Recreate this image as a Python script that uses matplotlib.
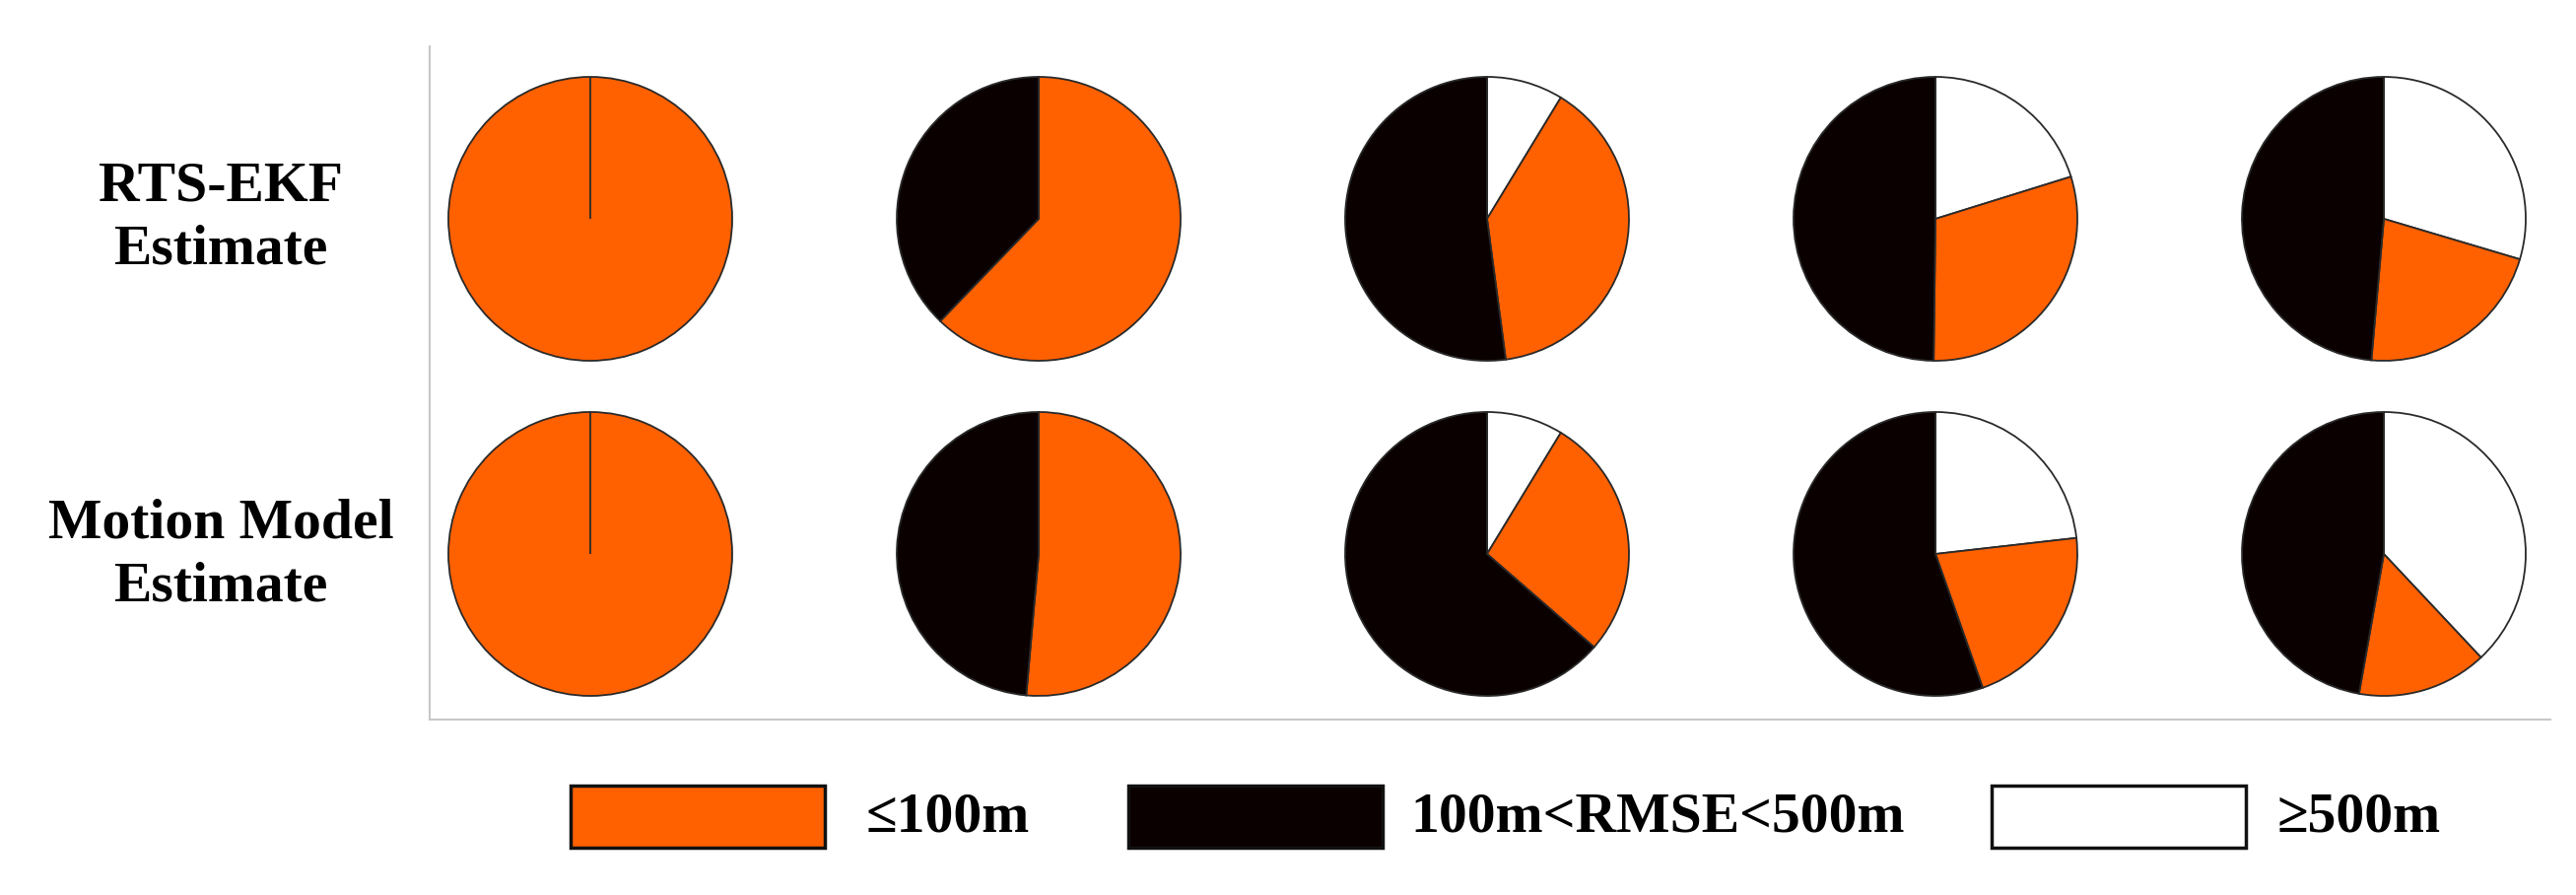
import matplotlib
matplotlib.use("Agg")
import matplotlib.pyplot as plt
from matplotlib.patches import Rectangle

# =========================
# Data (fractions of tracks per RMSE class)
# =========================
row_labels = ["RTS-EKF\nEstimate", "Motion Model\nEstimate"]
class_labels = ["\u2264100m", "100m<RMSE<500m", "\u2265500m"]

# RTS-EKF estimate, 5 cases
rts_le100 = [1.0, 0.622, 0.392, 0.300, 0.218]
rts_mid = [0.0, 0.378, 0.521, 0.498, 0.486]
rts_ge500 = [0.0, 0.0, 0.087, 0.202, 0.296]

# Motion model estimate, 5 cases
mm_le100 = [1.0, 0.514, 0.277, 0.214, 0.148]
mm_mid = [0.0, 0.486, 0.636, 0.554, 0.472]
mm_ge500 = [0.0, 0.0, 0.087, 0.232, 0.380]

ORANGE = "#FF6000"
BLACK = "#0A0000"
WHITE = "#FFFFFF"
class_colors = [ORANGE, BLACK, WHITE]

plt.rcParams["font.family"] = ["Liberation Serif", "DejaVu Serif"]

W, H = 2614, 908
fig = plt.figure(figsize=(W / 100, H / 100), dpi=100)

# =========================
# Panel with pies (axes in pixel units)
# =========================
px0, px1, py_top, py_bot = 436, 2588, 47, 730
ax = fig.add_axes([px0 / W, 1 - py_bot / H, (px1 - px0) / W, (py_bot - py_top) / H])

rows = [(rts_le100, rts_mid, rts_ge500), (mm_le100, mm_mid, mm_ge500)]
row_y = [508, 168]
col_x0, col_dx = 163, 455
radius = 144

for r, (le, mid, ge) in enumerate(rows):
    for i in range(len(le)):
        # clockwise from top: >=500m, <=100m, middle class
        ax.pie([ge[i], le[i], mid[i]],
               colors=[WHITE, ORANGE, BLACK],
               startangle=90, counterclock=False,
               center=(col_x0 + i * col_dx, row_y[r]), radius=radius,
               frame=True,
               wedgeprops=dict(edgecolor="#2a2a2a", linewidth=1.3))

ax.set_xlim(0, px1 - px0)
ax.set_ylim(0, py_bot - py_top)
ax.set_aspect("equal")
ax.set_xticks([])
ax.set_yticks([])
for s in ["top", "right"]:
    ax.spines[s].set_visible(False)
for s in ["left", "bottom"]:
    ax.spines[s].set_color("#c8c8c8")
    ax.spines[s].set_linewidth(1.5)

# =========================
# Row labels + legend (overlay in figure pixels)
# =========================
ov = fig.add_axes([0, 0, 1, 1])
ov.set_xlim(0, W)
ov.set_ylim(H, 0)
ov.axis("off")

label_y = [221, 563]
for lab, y in zip(row_labels, label_y):
    ov.text(224, y, lab, ha="center", va="center", fontsize=41.5,
            fontweight="bold", linespacing=1.3)

box_x = [579, 1145, 2021]
text_x = [879, 1431, 2311]
for lab, col, bx, tx in zip(class_labels, class_colors, box_x, text_x):
    ov.add_patch(Rectangle((bx, 797), 258, 63, facecolor=col,
                           edgecolor="#111111", linewidth=2.5))
    ov.text(tx, 830, lab, ha="left", va="center", fontsize=41.5,
            fontweight="bold")

fig.savefig("out.png", dpi=100)
